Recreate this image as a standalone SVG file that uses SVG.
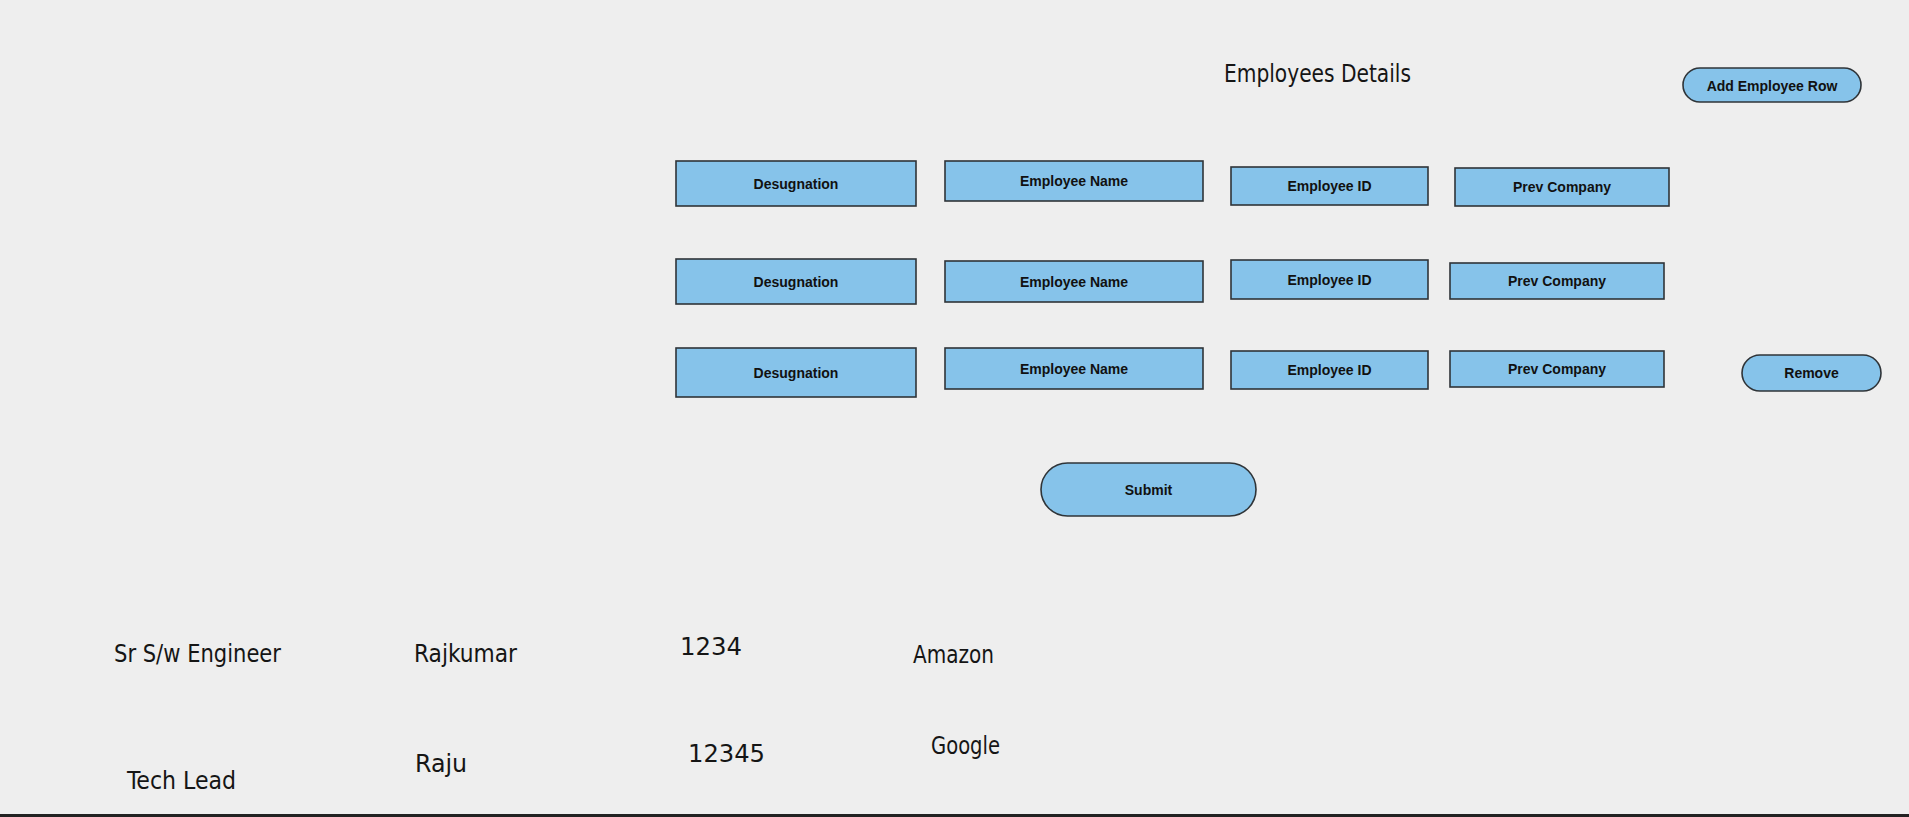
<svg xmlns="http://www.w3.org/2000/svg" width="1909" height="817" viewBox="0 0 1909 817">
<style>
.box{fill:#86C3EA;stroke:#2f3438;stroke-width:1.6}
.lbl{font-family:"Liberation Sans",Arial,sans-serif;font-weight:bold;font-size:14px;fill:#111;text-anchor:middle;dominant-baseline:central}
.hand{font-family:"Liberation Sans Narrow","DejaVu Sans Condensed","Liberation Sans",sans-serif;font-size:24px;fill:#151515;lengthAdjust:spacingAndGlyphs}
</style>
<rect x="0" y="0" width="1909" height="817" fill="#eeeeee"/>
<rect x="0" y="814" width="1909" height="3" fill="#222"/>
<g id="title"><text class="hand" x="1224" y="82" textLength="187" lengthAdjust="spacingAndGlyphs">Employees Details</text></g>
<g id="add-row"><rect class="box" x="1683" y="68" width="178" height="34" rx="17"/><text class="lbl" x="1772" y="85.5">Add Employee Row</text></g>

<g id="r1-desig"><rect class="box" x="676" y="161" width="240" height="45"/><text class="lbl" x="796" y="183.5">Desugnation</text></g>
<g id="r1-name"><rect class="box" x="945" y="161" width="258" height="40"/><text class="lbl" x="1074" y="181">Employee Name</text></g>
<g id="r1-id"><rect class="box" x="1231" y="167" width="197" height="38"/><text class="lbl" x="1329.5" y="186">Employee ID</text></g>
<g id="r1-prev"><rect class="box" x="1455" y="168" width="214" height="38"/><text class="lbl" x="1562" y="187">Prev Company</text></g>

<g id="r2-desig"><rect class="box" x="676" y="259" width="240" height="45"/><text class="lbl" x="796" y="281.5">Desugnation</text></g>
<g id="r2-name"><rect class="box" x="945" y="261" width="258" height="41"/><text class="lbl" x="1074" y="281.5">Employee Name</text></g>
<g id="r2-id"><rect class="box" x="1231" y="260" width="197" height="39"/><text class="lbl" x="1329.5" y="279.5">Employee ID</text></g>
<g id="r2-prev"><rect class="box" x="1450" y="263" width="214" height="36"/><text class="lbl" x="1557" y="281">Prev Company</text></g>

<g id="r3-desig"><rect class="box" x="676" y="348" width="240" height="49"/><text class="lbl" x="796" y="372.5">Desugnation</text></g>
<g id="r3-name"><rect class="box" x="945" y="348" width="258" height="41"/><text class="lbl" x="1074" y="368.5">Employee Name</text></g>
<g id="r3-id"><rect class="box" x="1231" y="351" width="197" height="38"/><text class="lbl" x="1329.5" y="370">Employee ID</text></g>
<g id="r3-prev"><rect class="box" x="1450" y="351" width="214" height="36"/><text class="lbl" x="1557" y="369">Prev Company</text></g>
<g id="remove"><rect class="box" x="1742" y="355" width="139" height="36" rx="18"/><text class="lbl" x="1811.5" y="373">Remove</text></g>

<g id="submit"><rect class="box" x="1041" y="463" width="215" height="53" rx="26.5"/><text class="lbl" x="1148.5" y="489.5">Submit</text></g>

<g id="data">
<text class="hand" x="114" y="662" textLength="167" lengthAdjust="spacingAndGlyphs">Sr S/w Engineer</text>
<text class="hand" x="414" y="662" textLength="103" lengthAdjust="spacingAndGlyphs">Rajkumar</text>
<text class="hand" x="680" y="655" textLength="62" lengthAdjust="spacingAndGlyphs">1234</text>
<text class="hand" x="913" y="663" textLength="81" lengthAdjust="spacingAndGlyphs">Amazon</text>
<text class="hand" x="127" y="789" textLength="109" lengthAdjust="spacingAndGlyphs">Tech Lead</text>
<text class="hand" x="415" y="772" textLength="52" lengthAdjust="spacingAndGlyphs">Raju</text>
<text class="hand" x="688" y="762" textLength="77" lengthAdjust="spacingAndGlyphs">12345</text>
<text class="hand" x="931" y="754" textLength="69" lengthAdjust="spacingAndGlyphs">Google</text>
</g>
<g id="connectors"></g>
</svg>
